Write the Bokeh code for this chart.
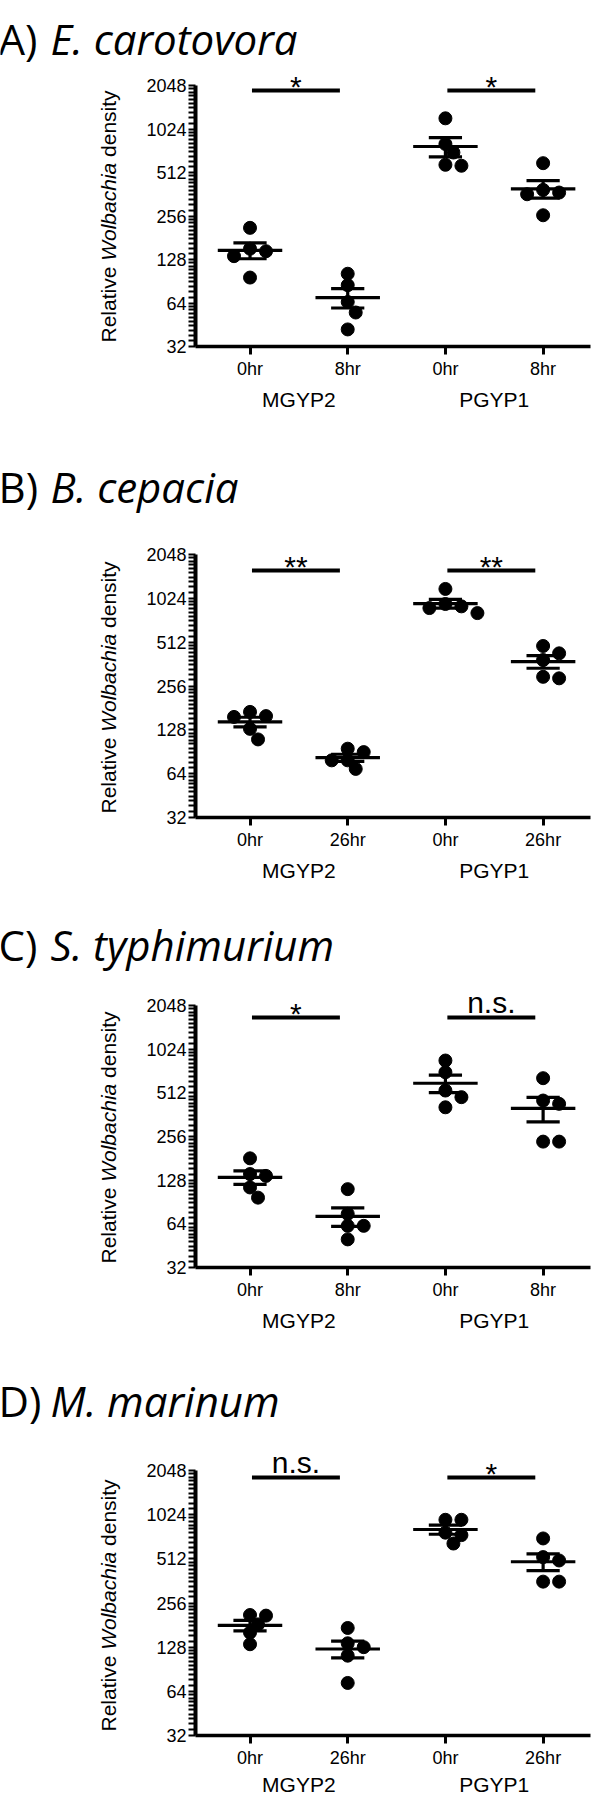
import numpy as np
from bokeh.plotting import figure
from bokeh.models import Range1d, FixedTicker, Label, CustomJSTickFormatter
from bokeh.layouts import column
from bokeh.embed import file_html
from bokeh.resources import INLINE

# ---------------- data ----------------
panel_letters = ["A)", "B)", "C)", "D)"]
panel_species = ["E. carotovora", "B. cepacia", "S. typhimurium", "M. marinum"]
strains = ["MGYP2", "PGYP1"]
time_labels = [["0hr", "8hr"], ["0hr", "26hr"], ["0hr", "8hr"], ["0hr", "26hr"]]
y_ticks = [32, 64, 128, 256, 512, 1024, 2048]
y_label_parts = ["Relative", "Wolbachia", "density"]

# groups in order: MGYP2 0hr, MGYP2 late, PGYP1 0hr, PGYP1 late
a_values = [[212, 152, 146, 135, 96], [102, 85, 65, 55, 42],
            [1214, 806, 704, 579, 570], [594, 388, 372, 362, 259]]
b_values = [[170, 159, 157, 130, 110], [95, 90, 79, 79, 69],
            [1188, 936, 902, 878, 811], [482, 429, 386, 296, 289]]
c_values = [[181, 141, 137, 114, 97], [111, 75, 62, 62, 50],
            [855, 710, 531, 478, 407], [646, 453, 430, 236, 236]]
d_values = [[212, 210, 183, 161, 134], [173, 136, 128, 112, 73],
            [945, 945, 772, 743, 651], [705, 526, 499, 358, 358]]
all_values = [a_values, b_values, c_values, d_values]
sig_labels = [["*", "*"], ["**", "**"], ["*", "n.s."], ["n.s.", "*"]]

# ---------------- layout ----------------
FIG_W = 591
AXIS_X = 203            # page x of the y axis line
X_LO, X_HI = -0.558, 3.485
PPU = 395 / (X_HI - X_LO)
fig_heights = [447, 453, 452, 446]
axis_tops = [93, 562, 1013, 1478]      # page y of 2048
axis_bottoms = [354, 825, 1275, 1743]  # page y of 32
title_gaps = [55, 60, 53, 62]
bar_offsets = [5, 16, 12, 7]
SHIFT = 8   # label baseline correction (px)

AX_FONT = "Liberation Sans"
TITLE_FONT = "Open Sans"
TITLE_FS = 42

minor = []
for n in range(5, 11):
    b = 2 ** n
    minor += [b * (1 + k / 10) for k in range(1, 10)]
all_y_ticks = sorted(y_ticks + minor)

label_js = """
const e = Math.log2(tick);
return (Math.abs(e - Math.round(e)) < 1e-6) ? String(Math.round(tick)) : '';
"""


def swarm(vals, oct_px):
    order = sorted(range(len(vals)), key=lambda i: -vals[i])
    placed = []
    offs = [0.0] * len(vals)
    cands = [0, 8, -8, 16, -16, 24, -24, 32, -32]
    for i in order:
        ypx = -np.log2(vals[i]) * oct_px
        chosen = cands[-1]
        for c in cands:
            if all((c - px) ** 2 + (ypx - py) ** 2 >= 11 ** 2 for px, py in placed):
                chosen = c
                break
        placed.append((chosen, ypx))
        offs[i] = chosen
    return offs


figs = []
page_top = 8
for k in range(4):
    H = fig_heights[k]
    ft = axis_tops[k]
    fb = axis_bottoms[k]
    oct_px = (fb - ft) / 6.0
    page_bottom = page_top + H

    def to_x(px):
        return X_LO + (px - AXIS_X) / PPU

    def to_y(py, ft=ft, op=oct_px):
        return 2 ** (11 - (py - ft) / op)

    p = figure(width=FIG_W, height=H, y_axis_type="log",
               x_range=Range1d(to_x(8), to_x(8 + FIG_W)),
               y_range=Range1d(to_y(page_bottom), to_y(page_top)),
               output_backend="svg", toolbar_location=None, min_border=0)
    p.outline_line_color = None
    p.xgrid.visible = False
    p.ygrid.visible = False

    # y axis: every tick drawn as a tick mark, labels only at powers of two
    ya = p.yaxis[0]
    ya.fixed_location = X_LO
    ya.bounds = (32, 2048)
    ya.ticker = FixedTicker(ticks=all_y_ticks, minor_ticks=[])
    ya.formatter = CustomJSTickFormatter(code=label_js)
    ya.axis_line_width = 4
    ya.axis_line_color = "black"
    ya.major_tick_out = 7
    ya.major_tick_in = 0
    ya.major_tick_line_width = 2.2
    ya.major_tick_line_color = "black"
    ya.minor_tick_line_color = None
    ya.major_label_text_font = AX_FONT
    ya.major_label_text_font_size = "18px"
    ya.major_label_text_color = "black"
    ya.major_label_standoff = 2

    # x axis
    xa = p.xaxis[0]
    xa.fixed_location = 32
    xa.bounds = (X_LO, X_HI)
    xa.ticker = FixedTicker(ticks=[0, 1, 2, 3])
    tl = time_labels[k]
    xa.major_label_overrides = {0: tl[0], 1: tl[1], 2: tl[0], 3: tl[1]}
    xa.axis_line_width = 3.5
    xa.axis_line_color = "black"
    xa.major_tick_out = 8
    xa.major_tick_in = 0
    xa.major_tick_line_width = 3
    xa.minor_tick_line_color = None
    xa.major_label_text_font = AX_FONT
    xa.major_label_text_font_size = "18px"
    xa.major_label_text_color = "black"
    xa.major_label_standoff = 4

    # points, means, SEM
    vals_k = all_values[k]
    xs, ys = [], []
    mx0, mx1, my = [], [], []
    sx, sy0, sy1 = [], [], []
    cx0, cx1, cy = [], [], []
    for g, vals in enumerate(vals_k):
        offs = swarm(vals, oct_px)
        for v, o in zip(vals, offs):
            xs.append(g + o / PPU)
            ys.append(v)
        arr = np.array(vals, dtype=float)
        m = arr.mean()
        s = arr.std(ddof=1) / np.sqrt(len(arr))
        mx0.append(g - 0.33); mx1.append(g + 0.33); my.append(m)
        sx.append(g); sy0.append(m - s); sy1.append(m + s)
        cx0 += [g - 0.17, g - 0.17]; cx1 += [g + 0.17, g + 0.17]; cy += [m - s, m + s]
    p.scatter(xs, ys, size=13, color="black", marker="circle")
    p.segment(mx0, my, mx1, my, line_width=3.2, color="black")
    p.segment(sx, sy0, sx, sy1, line_width=3.2, color="black")
    p.segment(cx0, cy, cx1, cy, line_width=3.2, color="black")

    # significance bars
    bar_py = ft + bar_offsets[k]
    bar_y = to_y(bar_py)
    for j, gi in enumerate([0, 2]):
        p.segment([gi + 0.02], [bar_y], [gi + 0.92], [bar_y], line_width=4, color="black")
        lab = sig_labels[k][j]
        base = bar_py - 7 if lab == "n.s." else bar_py + 4
        p.add_layout(Label(x=gi + 0.47, y=to_y(base - SHIFT), text=lab, text_align="center",
                           text_baseline="alphabetic", text_font=AX_FONT,
                           text_font_size="30px", text_color="black"))

    # group labels (kept inside the canvas)
    gbase = min(fb + 61, page_bottom - 6)
    for j, gi in enumerate([0, 2]):
        p.add_layout(Label(x=gi + 0.5, y=to_y(gbase - SHIFT), text=strains[j],
                           text_align="center", text_baseline="alphabetic",
                           text_font=AX_FONT, text_font_size="21px", text_color="black"))

    # y axis label (rotated, mixed italic)
    fs = 21
    starts = [0, 3890 * fs / 1000, 8836 * fs / 1000]
    styles = ["normal", "italic", "normal"]
    y0 = fb - 4
    for txt, st, off in zip(y_label_parts, styles, starts):
        p.add_layout(Label(x=to_x(124 - SHIFT), y=to_y(y0 - off), text=txt, angle=np.pi / 2,
                           text_align="left", text_baseline="alphabetic",
                           text_font=AX_FONT, text_font_size=f"{fs}px",
                           text_font_style=st, text_color="black"))

    # panel title (kept inside the canvas)
    tb = max(ft - title_gaps[k], page_top + int(1.07 * TITLE_FS) + 2)
    p.add_layout(Label(x=to_x(6), y=to_y(tb - SHIFT), text=panel_letters[k], text_align="left",
                       text_baseline="alphabetic", text_font=TITLE_FONT,
                       text_font_size=f"{TITLE_FS}px", text_color="black"))
    p.add_layout(Label(x=to_x(58), y=to_y(tb - SHIFT), text=panel_species[k], text_align="left",
                       text_baseline="alphabetic", text_font=TITLE_FONT,
                       text_font_size=f"{TITLE_FS}px", text_font_style="italic",
                       text_color="black"))

    figs.append(p)
    page_top += H

layout = column(*figs)
open("out.html", "w").write(file_html(layout, INLINE))
